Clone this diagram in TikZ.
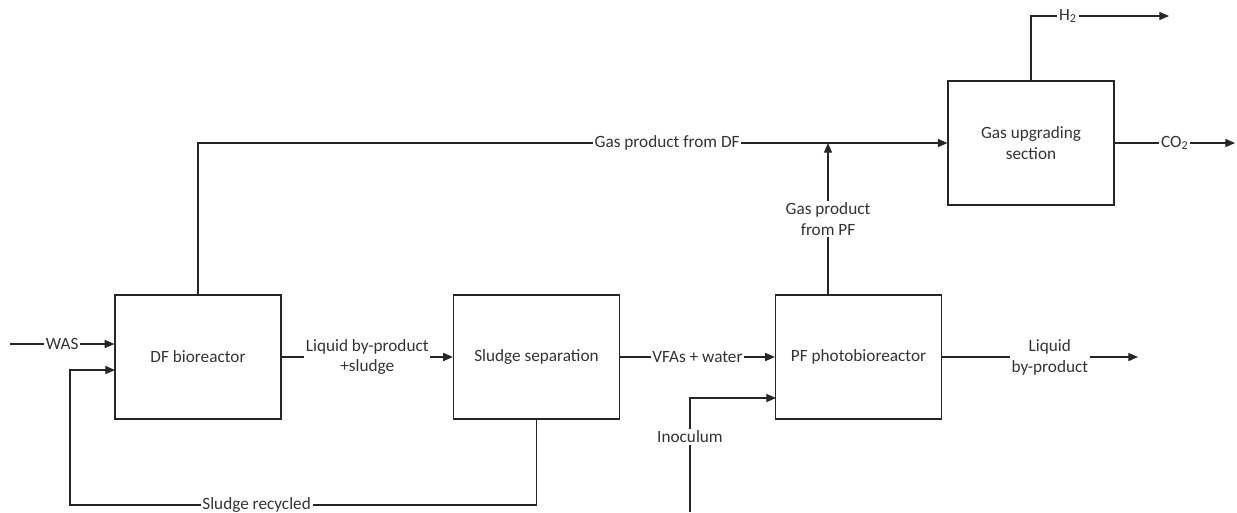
\documentclass[tikz,border=0pt]{standalone}
\usepackage{fontspec}
\setmainfont{Carlito}
\usetikzlibrary{arrows.meta}

\begin{document}
\begin{tikzpicture}[
      x=0.02cm, y=-0.02cm,
      line width=0.7pt,
      every node/.style={font=\fontsize{9.8}{11.9}\selectfont, text=black!80},
      unit/.style={draw=black!85, minimum width=3.32cm, minimum height=2.48cm, align=center},
      flow/.style={draw=black!85, -{Triangle[length=5.5pt,width=4.6pt]}},
      lbl/.style={fill=white, inner sep=1pt, align=center}
    ]
    \useasboundingbox (0,0) rectangle (1237,512);

    % process units
    \node[unit] (df)  at (198,357)   {DF bioreactor};
    \node[unit] (sep) at (536.5,357) {Sludge separation};
    \node[unit] (pf)  at (858.5,357) {PF photobioreactor};
    \node[unit] (gu)  at (1031,143)  {Gas upgrading\\section};

    % free ends of the streams
    \coordinate (was)    at (10,344);
    \coordinate (dfin)   at (115,370);
    \coordinate (rec)    at (70,505);
    \coordinate (pfgas)  at (828,295);
    \coordinate (junc)   at (828,143);
    \coordinate (inoc)   at (690,512);
    \coordinate (pfin)   at (776,398);
    \coordinate (liqout) at (1138,357);
    \coordinate (h2out)  at (1169,16);
    \coordinate (co2out) at (1235,143);

    % liquid line
    \draw[flow] (was) -- node[lbl] {WAS} (was -| df.west);
    \draw[flow] (df) -- node[lbl] {Liquid by-product\\+sludge} (sep);
    \draw[flow] (sep) -- node[lbl] {VFAs + water} (pf);
    \draw[flow] (sep.south) |- node[lbl, pos=0.8] {Sludge recycled} (rec) |- (dfin);
    \draw[flow] (inoc) |- node[lbl, pos=0.33] {Inoculum} (pfin);
    \draw[flow] (pf) -- node[lbl, pos=0.55] {Liquid\\by-product} (liqout);

    % gas line
    \draw[flow] (df.north) |- node[lbl, pos=0.813] {Gas product from DF} (gu.west);
    \draw[flow] (pfgas) -- node[lbl] {Gas product\\from PF} (junc);
    \draw[flow] (gu.north) |- node[lbl, pos=0.634] {H\textsubscript{2}} (h2out);
    \draw[flow] (gu.east) -- node[lbl] {CO\textsubscript{2}} (co2out);
\end{tikzpicture}
\end{document}
